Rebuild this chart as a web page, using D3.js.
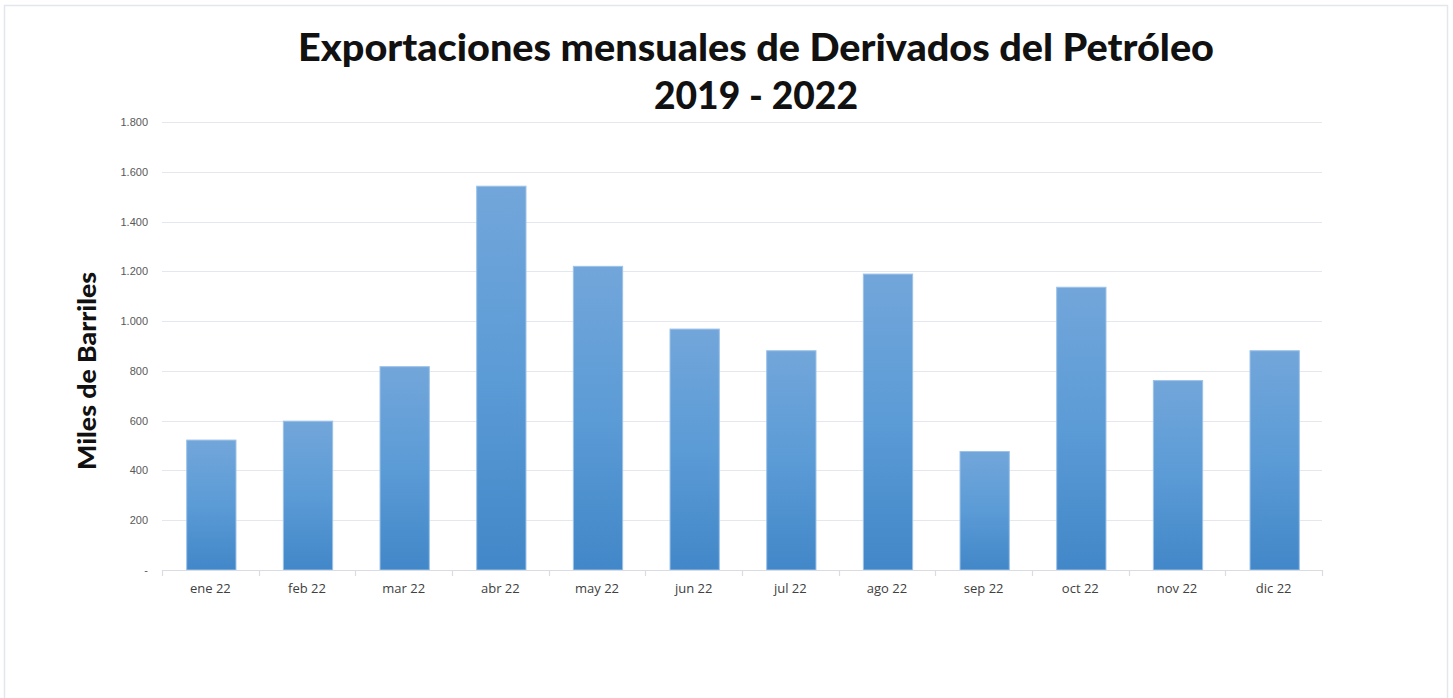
<!DOCTYPE html>
<html>
<head>
<meta charset="utf-8">
<script src="https://cdn.jsdelivr.net/npm/d3@7"></script>
<style>
  html, body { margin: 0; padding: 0; background: #fff; }
  svg { display: block; }
</style>
</head>
<body>
<svg id="chart" width="1453" height="698"></svg>
<script>
const months = ["ene 22","feb 22","mar 22","abr 22","may 22","jun 22","jul 22","ago 22","sep 22","oct 22","nov 22","dic 22"];
const values = [522, 598, 817, 1542, 1220, 968, 881, 1189, 476, 1136, 761, 881];
const yTicks = [0, 200, 400, 600, 800, 1000, 1200, 1400, 1600, 1800];
const titleLines = ["Exportaciones mensuales de Derivados del Petróleo", "2019 - 2022"];
const yTitle = "Miles de Barriles";

const svg = d3.select("#chart");
const W = 1453, H = 698;
const m = { left: 162, right: W - 1322, top: 122, bottom: H - 570 };

// frame
svg.append("rect").attr("x", 4.5).attr("y", 5.5).attr("width", 1443).attr("height", 700)
  .attr("fill", "#fff").attr("stroke", "#e3e7ec").attr("stroke-width", 1.5);

const x = d3.scaleBand().domain(months).range([m.left, W - m.right]).paddingInner(0.49).paddingOuter(0.245);
const y = d3.scaleLinear().domain([0, 1800]).range([H - m.bottom, m.top]);

// gradient
const defs = svg.append("defs");
const grad = defs.append("linearGradient").attr("id", "barGrad").attr("x1", 0).attr("y1", 0).attr("x2", 0).attr("y2", 1);
grad.append("stop").attr("offset", "0%").attr("stop-color", "#72a6da");
grad.append("stop").attr("offset", "50%").attr("stop-color", "#5b9bd6");
grad.append("stop").attr("offset", "100%").attr("stop-color", "#4287c8");

// gridlines
svg.append("g").selectAll("line").data(yTicks.filter(d => d > 0)).join("line")
  .attr("x1", m.left).attr("x2", W - m.right)
  .attr("y1", d => Math.round(y(d)) + 0.5).attr("y2", d => Math.round(y(d)) + 0.5)
  .attr("stroke", "#e4e8ee").attr("stroke-width", 1.2);

// y axis labels
const fmt = d => d === 0 ? "-" : d3.format(",")(d).replace(/,/g, ".");
const yAxis = d3.axisLeft(y).tickValues(yTicks).tickFormat(fmt).tickSize(0).tickPadding(14);
const gy = svg.append("g").attr("transform", `translate(${m.left},0)`).call(yAxis);
gy.select(".domain").remove();
gy.selectAll("text").attr("font-family", "Liberation Sans, Arial, sans-serif").attr("font-size", 11).attr("fill", "#595959");

// bars
svg.append("g").selectAll("rect").data(values).join("rect")
  .attr("x", (d, i) => x(months[i]) + 1)
  .attr("y", d => y(d))
  .attr("width", x.bandwidth())
  .attr("height", d => y(0) - y(d))
  .attr("fill", "url(#barGrad)")
  .attr("stroke", "#9cc2e8").attr("stroke-width", 1);

// x axis
const xAxis = d3.axisBottom(x).tickSize(0).tickPadding(14);
const gx = svg.append("g").attr("transform", `translate(0,${y(0)})`).call(xAxis);
gx.select(".domain").attr("stroke", "#d9dde3").attr("stroke-width", 1.2);
gx.selectAll("text").attr("font-family", "Open Sans, sans-serif").attr("font-size", 13).attr("fill", "#404040");
// category boundary tick marks
const step = x.step();
const bounds = d3.range(months.length + 1).map(i => m.left + i * step);
gx.append("g").selectAll("line").data(bounds).join("line")
  .attr("x1", d => Math.round(d) + 0.5).attr("x2", d => Math.round(d) + 0.5)
  .attr("y1", 0).attr("y2", 6).attr("stroke", "#d9dde3").attr("stroke-width", 1.2);

// title
const titleLens = [916, 204];
svg.append("g").selectAll("text").data(titleLines).join("text")
  .attr("x", 756).attr("y", (d, i) => 61 + i * 48)
  .attr("text-anchor", "middle")
  .attr("font-family", "Lato, sans-serif").attr("font-weight", 900)
  .attr("font-size", 38).attr("fill", "#111")
  .attr("textLength", (d, i) => titleLens[i]).attr("lengthAdjust", "spacingAndGlyphs")
  .text(d => d);

// y title
svg.append("text")
  .attr("transform", "translate(96,371) rotate(-90)")
  .attr("text-anchor", "middle")
  .attr("font-family", "Lato, sans-serif").attr("font-weight", 900)
  .attr("font-size", 24).attr("fill", "#111")
  .attr("textLength", 198).attr("lengthAdjust", "spacingAndGlyphs")
  .text(yTitle);
</script>
</body>
</html>
